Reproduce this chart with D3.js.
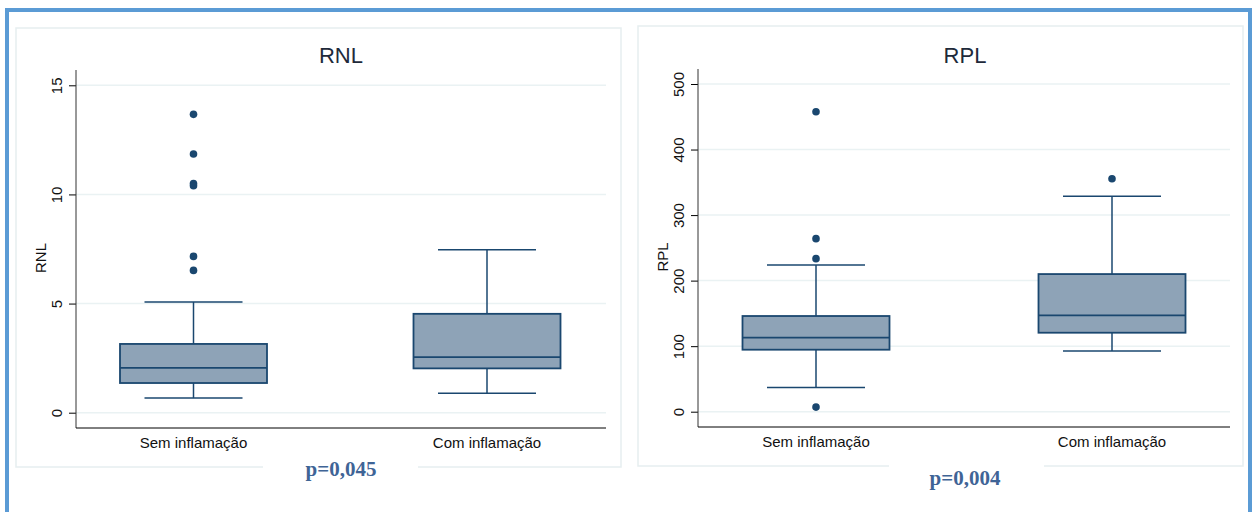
<!DOCTYPE html>
<html>
<head>
<meta charset="utf-8">
<script src="https://cdn.jsdelivr.net/npm/d3@7"></script>
<style>
  body { margin: 0; background: #fff; }
  svg text { font-family: Arial, "Liberation Sans", sans-serif; }
</style>
</head>
<body>
<svg id="chart" width="1257" height="512"></svg>
<script>
let groups = ["Sem inflamação", "Com inflamação"];

// RNL: [lower whisker, Q1, median, Q3, upper whisker]
let rnl_stats = [[0.67, 1.36, 2.05, 3.15, 5.07], [0.89, 2.03, 2.55, 4.53, 7.47]];
let rnl_outliers = [[13.67, 11.85, 10.5, 10.4, 7.16, 6.52], [ ]];
let rnl_ticks = [0, 5, 10, 15];

// RPL
let rpl_stats = [[37, 94.6, 113, 146, 224], [92.6, 120.5, 147, 210, 328.6]];
let rpl_outliers = [[457.7, 264, 233.5, 7], [355.5]];
let rpl_ticks = [0, 100, 200, 300, 400, 500];

let pvalues = ["p=0,045", "p=0,004"];

const svg = d3.select("#chart");
const navy = "#1a476f";

// outer blue frame
svg.append("rect")
  .attr("x", 7).attr("y", 10)
  .attr("width", 1243).attr("height", 520)
  .attr("fill", "none")
  .attr("stroke", "#5b9bd5")
  .attr("stroke-width", 4);

function drawPanel(opts) {
  let g = svg.append("g");

  // light panel border
  g.append("rect")
    .attr("x", opts.box[0]).attr("y", opts.box[1])
    .attr("width", opts.box[2] - opts.box[0]).attr("height", opts.box[3] - opts.box[1])
    .attr("fill", "#fff")
    .attr("stroke", "#e6eef0")
    .attr("stroke-width", 1.5);

  let x = d3.scalePoint().domain(groups).range(opts.centers);
  let y = d3.scaleLinear().domain([opts.ticks[0], opts.ticks[opts.ticks.length - 1]]).range(opts.yrange);

  // gridlines
  g.selectAll(".grid").data(opts.ticks).join("line")
    .attr("x1", opts.left).attr("x2", opts.right)
    .attr("y1", d => y(d)).attr("y2", d => y(d))
    .attr("stroke", "#eaf2f3").attr("stroke-width", 1.5);

  // y axis
  let yAxis = g.append("g")
    .attr("transform", `translate(${opts.left},0)`)
    .call(d3.axisLeft(y).tickValues(opts.ticks).tickSize(7).tickSizeOuter(0));
  yAxis.select(".domain").remove();
  yAxis.append("line")
    .attr("x1", 0).attr("x2", 0)
    .attr("y1", opts.top).attr("y2", opts.bottom)
    .attr("stroke", "#333").attr("stroke-width", 1);
  yAxis.selectAll(".tick line").attr("stroke", "#000");
  yAxis.selectAll(".tick text")
    .attr("transform", "rotate(-90)")
    .attr("x", 0).attr("y", -14)
    .attr("dy", 0)
    .attr("text-anchor", "middle")
    .attr("fill", "#111")
    .style("font-family", "Arial, 'Liberation Sans', sans-serif")
    .style("font-size", "15px");

  // x axis line
  g.append("line")
    .attr("x1", opts.left).attr("x2", opts.right)
    .attr("y1", opts.bottom).attr("y2", opts.bottom)
    .attr("stroke", "#000").attr("stroke-width", 1);

  g.selectAll(".cat").data(groups).join("text")
    .attr("x", d => x(d)).attr("y", opts.bottom + 20)
    .attr("text-anchor", "middle")
    .attr("fill", "#111")
    .style("font-size", "15px")
    .text(d => d);

  // title and y label
  g.append("text")
    .attr("x", opts.titleX).attr("y", 63)
    .attr("text-anchor", "middle")
    .attr("fill", "#1e2a3a")
    .style("font-size", "22px")
    .text(opts.title);
  g.append("text")
    .attr("transform", `translate(${opts.left - 30},${(opts.top + opts.bottom) / 2 + 9}) rotate(-90)`)
    .attr("text-anchor", "middle")
    .attr("fill", "#111")
    .style("font-size", "15px")
    .text(opts.title);

  // boxes
  let half = 73.5, cap = 49;
  opts.stats.forEach((s, i) => {
    let cx = x(groups[i]);
    g.append("line").attr("x1", cx).attr("x2", cx).attr("y1", y(s[3])).attr("y2", y(s[4]))
      .attr("stroke", navy).attr("stroke-width", 1.5);
    g.append("line").attr("x1", cx).attr("x2", cx).attr("y1", y(s[0])).attr("y2", y(s[1]))
      .attr("stroke", navy).attr("stroke-width", 1.5);
    g.append("line").attr("x1", cx - cap).attr("x2", cx + cap).attr("y1", y(s[4])).attr("y2", y(s[4]))
      .attr("stroke", navy).attr("stroke-width", 1.5);
    g.append("line").attr("x1", cx - cap).attr("x2", cx + cap).attr("y1", y(s[0])).attr("y2", y(s[0]))
      .attr("stroke", navy).attr("stroke-width", 1.5);
    g.append("rect")
      .attr("x", cx - half).attr("width", half * 2)
      .attr("y", y(s[3])).attr("height", y(s[1]) - y(s[3]))
      .attr("fill", "#8ea3b7").attr("stroke", navy).attr("stroke-width", 1.8);
    g.append("line").attr("x1", cx - half).attr("x2", cx + half).attr("y1", y(s[2])).attr("y2", y(s[2]))
      .attr("stroke", navy).attr("stroke-width", 1.8);
    g.selectAll(null).data(opts.outliers[i]).join("circle")
      .attr("cx", cx).attr("cy", d => y(d)).attr("r", 3.8)
      .attr("fill", navy);
  });

  // white gap in panel border under p value
  g.append("rect")
    .attr("x", opts.gap[0]).attr("y", opts.box[3] - 3)
    .attr("width", opts.gap[1] - opts.gap[0]).attr("height", 6)
    .attr("fill", "#fff");
  g.append("text")
    .attr("x", opts.titleX).attr("y", opts.pY)
    .attr("text-anchor", "middle")
    .attr("fill", "#3f6496")
    .style("font-family", "'Liberation Serif', 'Times New Roman', serif")
    .style("font-weight", "bold")
    .style("font-size", "21px")
    .text(opts.p);
}

drawPanel({
  title: "RNL", p: pvalues[0],
  box: [16, 28, 621, 467],
  left: 76, right: 606, top: 70, bottom: 428,
  yrange: [412.7, 85.3], centers: [193.5, 487],
  ticks: rnl_ticks, stats: rnl_stats, outliers: rnl_outliers,
  titleX: 341, pY: 476, gap: [263, 418]
});

drawPanel({
  title: "RPL", p: pvalues[1],
  box: [638, 26, 1243, 466],
  left: 698, right: 1230, top: 69, bottom: 427,
  yrange: [411.7, 84], centers: [816, 1112],
  ticks: rpl_ticks, stats: rpl_stats, outliers: rpl_outliers,
  titleX: 965, pY: 485, gap: [889, 1044]
});
</script>
</body>
</html>
